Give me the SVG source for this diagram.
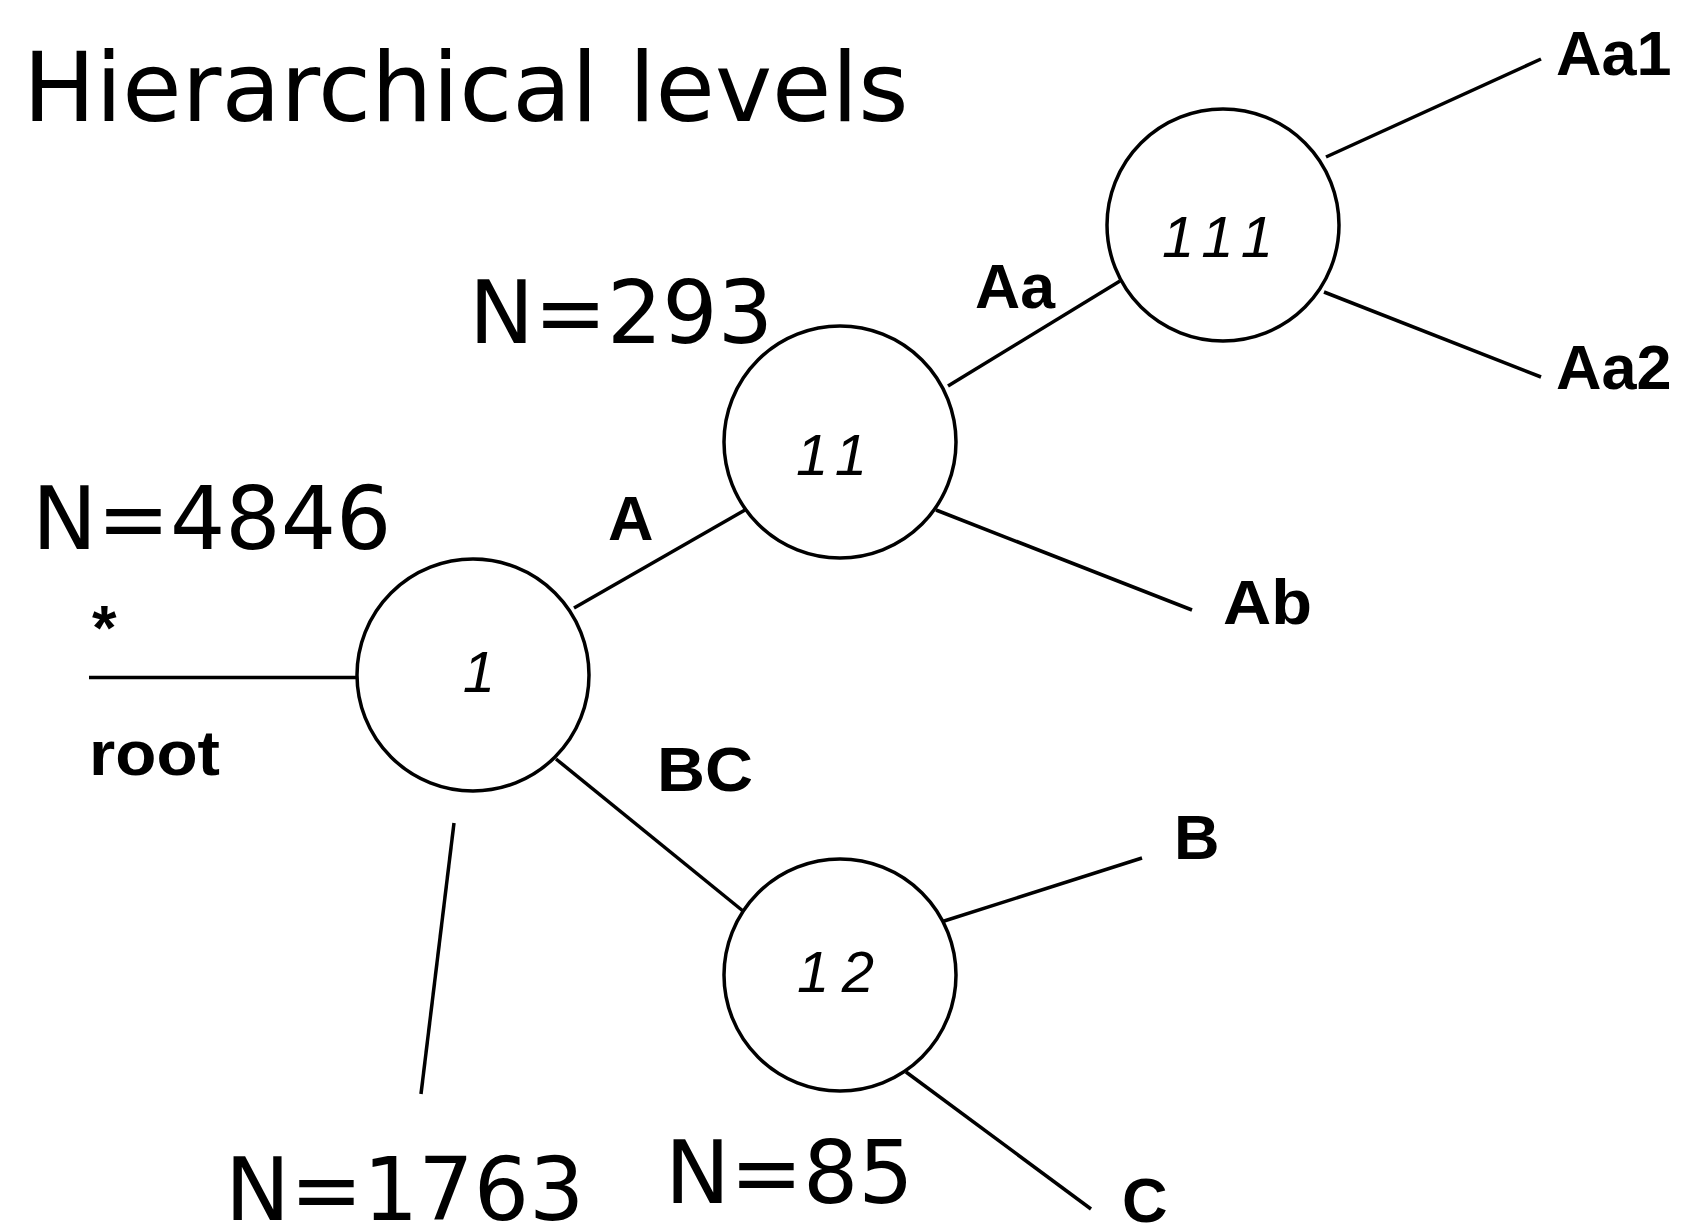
<svg xmlns="http://www.w3.org/2000/svg" width="1681" height="1230" viewBox="0 0 1681 1230">
<style>
.bg{fill:#fff}
.node{fill:#fff;stroke:#000;stroke-width:3.5}
.edge{stroke:#000;stroke-width:3.5;fill:none}
.big{font-family:"DejaVu Sans",sans-serif;fill:#000}
.lbl{font-family:"Liberation Sans",Arial,sans-serif;font-weight:bold;font-size:63px;fill:#000}
.num{font-family:"Liberation Sans",Arial,sans-serif;font-style:italic;font-size:58px;fill:#000}
</style>
<rect class="bg" x="0" y="0" width="1681" height="1230"/>
<text class="big" x="23" y="121" font-size="96.5">Hierarchical levels</text>
<text class="big" x="469" y="343" font-size="87">N=293</text>
<text class="big" x="32" y="549" font-size="87">N=4846</text>
<text class="big" x="225" y="1220" font-size="87">N=1763</text>
<text class="big" x="665" y="1203" font-size="87">N=85</text>
<g id="connectors">
<line class="edge" x1="89" y1="677.5" x2="357" y2="677.5"/>
<line class="edge" x1="574" y1="608" x2="745" y2="510"/>
<line class="edge" x1="948" y1="386" x2="1120" y2="281"/>
<line class="edge" x1="1326" y1="157" x2="1541" y2="59"/>
<line class="edge" x1="1324" y1="292" x2="1541" y2="377"/>
<line class="edge" x1="936" y1="510" x2="1192" y2="610"/>
<line class="edge" x1="556" y1="759" x2="743" y2="911"/>
<line class="edge" x1="941" y1="922" x2="1142" y2="858"/>
<line class="edge" x1="906" y1="1072" x2="1091" y2="1209"/>
<line class="edge" x1="454" y1="823" x2="421" y2="1094"/>
</g>
<g id="node-1">
<circle class="node" cx="473" cy="675" r="116"/>
<text class="num" x="479" y="692" text-anchor="middle">1</text>
</g>
<g id="node-11">
<circle class="node" cx="840" cy="442" r="116"/>
<text class="num" x="796" y="475" textLength="71" lengthAdjust="spacing">11</text>
</g>
<g id="node-111">
<circle class="node" cx="1223" cy="225" r="116"/>
<text class="num" x="1162" y="257" textLength="111" lengthAdjust="spacing">111</text>
</g>
<g id="node-12">
<circle class="node" cx="840" cy="975" r="116"/>
<text class="num" x="797" y="992" textLength="77" lengthAdjust="spacing">12</text>
</g>
<g id="labels">
<text class="lbl" x="92" y="649" font-size="30">*</text>
<text class="lbl" x="89" y="775" textLength="131" lengthAdjust="spacingAndGlyphs">root</text>
<text class="lbl" x="608" y="540">A</text>
<text class="lbl" x="975" y="308" textLength="80" lengthAdjust="spacingAndGlyphs">Aa</text>
<text class="lbl" x="1556" y="75">Aa1</text>
<text class="lbl" x="1556" y="389">Aa2</text>
<text class="lbl" x="1223" y="624" textLength="89" lengthAdjust="spacingAndGlyphs">Ab</text>
<text class="lbl" x="657" y="791" textLength="96" lengthAdjust="spacingAndGlyphs">BC</text>
<text class="lbl" x="1174" y="859">B</text>
<text class="lbl" x="1122" y="1222">C</text>
</g>
</svg>
